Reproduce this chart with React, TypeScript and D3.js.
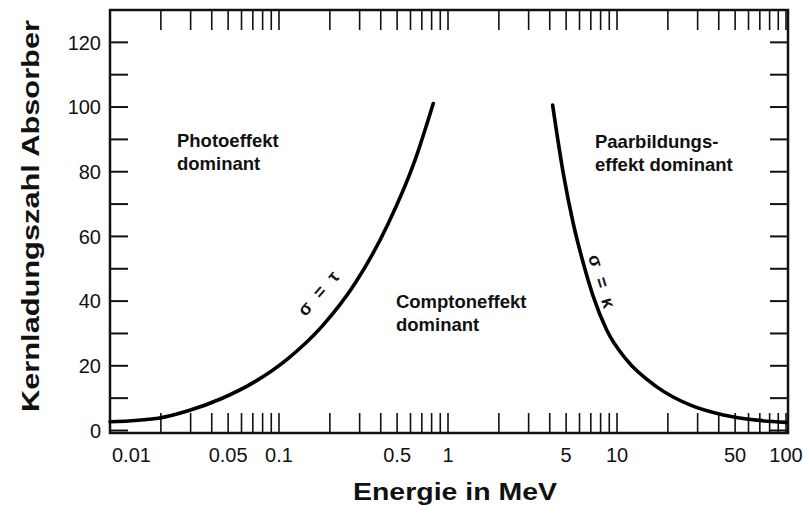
import React from "react";
import * as d3 from "d3";

// Energy (MeV) and atomic number Z along the boundary curves
const photoComptonE = [0.01, 0.0193, 0.029, 0.0458, 0.0721, 0.1135, 0.179, 0.282, 0.443, 0.638, 0.818];
const photoComptonZ = [2.7, 3.8, 6.1, 9.9, 15.1, 22.3, 32.1, 45.5, 64.0, 83.6, 101.1];
const comptonPairE = [4.16, 4.81, 5.51, 6.32, 7.24, 8.69, 11.4, 17.2, 27.0, 42.6, 67.1, 100];
const comptonPairZ = [100.6, 79.5, 64, 51.7, 41.4, 31.1, 21.8, 13.5, 7.9, 4.8, 3.2, 2.5];

const xTickLabels = [0.01, 0.05, 0.1, 0.5, 1, 5, 10, 50, 100];
const yTickLabels = [0, 20, 40, 60, 80, 100, 120];
const yMinorStep = 10;

const xTitle = "Energie in MeV";
const yTitle = "Kernladungszahl Absorber";

const regionLabels = [
  { lines: ["Photoeffekt", "dominant"], e: 0.0249, z: 87.6 },
  { lines: ["Comptoneffekt", "dominant"], e: 0.492, z: 37.9 },
  { lines: ["Paarbildungs-", "effekt dominant"], e: 7.41, z: 87.3 },
];
const curveLabels = [
  { text: "σ = τ", e: 0.1726, z: 42.8, angle: -49 },
  { text: "σ = κ", e: 8.2, z: 45.7, angle: 73 },
];

const W = 805;
const H = 506;
const FONT = "'Liberation Sans', Arial, Helvetica, sans-serif";

export default function App() {
  const left = 110, right = 788, top = 10, bottom = 433;
  const x = d3.scaleLog().domain([0.01, 100]).range([110, 786]);
  const y = d3.scaleLinear().domain([0, 130]).range([430.5, 10]);

  const xTicks = x.ticks();
  const yTicks = d3.range(0, 131, yMinorStep);

  const line = d3
    .line<[number, number]>()
    .x((d) => x(d[0]))
    .y((d) => y(d[1]))
    .curve(d3.curveMonotoneX);

  const pc = photoComptonE.map((e, i) => [e, photoComptonZ[i]] as [number, number]);
  const cp = comptonPairE.map((e, i) => [e, comptonPairZ[i]] as [number, number]);

  const tl = 20;
  const fmt = (v: number) => String(v);

  return (
    <svg
      width={W}
      height={H}
      style={{ position: "absolute", left: 0, top: 0, background: "#fff" }}
      fontFamily={FONT}
    >
      <rect x={0} y={0} width={W} height={H} fill="#fff" />
      {/* ticks */}
      <g stroke="#111" strokeWidth={1.6}>
        {xTicks.map((t, i) => (
          <g key={"xt" + i}>
            <line x1={x(t)} x2={x(t)} y1={bottom} y2={bottom - tl} />
            <line x1={x(t)} x2={x(t)} y1={top} y2={top + tl} />
          </g>
        ))}
        {yTicks.map((t, i) => (
          <g key={"yt" + i}>
            <line x1={left} x2={left + 18} y1={y(t)} y2={y(t)} strokeWidth={2} />
            <line x1={right} x2={right - 18} y1={y(t)} y2={y(t)} strokeWidth={2} />
          </g>
        ))}
      </g>
      {/* frame */}
      <rect
        x={left}
        y={top}
        width={right - left}
        height={bottom - top}
        fill="none"
        stroke="#111"
        strokeWidth={2.5}
      />
      {/* curves */}
      <path d={line(pc) || ""} fill="none" stroke="#000" strokeWidth={3.6} strokeLinecap="round" />
      <path d={line(cp) || ""} fill="none" stroke="#000" strokeWidth={3.6} strokeLinecap="round" />

      {/* x tick labels */}
      {xTickLabels.map((t, i) => (
        <text
          key={"xl" + i}
          x={i === 0 ? x(t) + 2 : x(t)}
          y={462}
          textAnchor={i === 0 ? "start" : "middle"}
          fontSize={20}
          fill="#111"
        >
          {fmt(t)}
        </text>
      ))}
      {/* y tick labels */}
      {yTickLabels.map((t, i) => (
        <text
          key={"yl" + i}
          x={101}
          y={y(t)}
          dy="0.36em"
          textAnchor="end"
          fontSize={20}
          fill="#111"
        >
          {t}
        </text>
      ))}

      {/* region labels */}
      {regionLabels.map((r, i) => (
        <text key={"rl" + i} x={x(r.e)} y={y(r.z)} fontSize={18.5} fontWeight="bold" fill="#111">
          {r.lines.map((l, j) => (
            <tspan key={j} x={x(r.e)} dy={j === 0 ? 0 : 23}>
              {l}
            </tspan>
          ))}
        </text>
      ))}

      {/* curve labels */}
      {curveLabels.map((c, i) => (
        <text
          key={"cl" + i}
          transform={`translate(${x(c.e)},${y(c.z)}) rotate(${c.angle})`}
          textAnchor="middle"
          dy="0.35em"
          fontSize={18}
          fontWeight="bold"
          letterSpacing={3}
          fill="#111"
        >
          {c.text}
        </text>
      ))}

      {/* axis titles */}
      <text
        x={455}
        y={500}
        textAnchor="middle"
        fontSize={24}
        fontWeight="bold"
        fill="#111"
        textLength={204}
        lengthAdjust="spacingAndGlyphs"
      >
        {xTitle}
      </text>
      <text
        transform="translate(39,216) rotate(-90)"
        textAnchor="middle"
        fontSize={24}
        fontWeight="bold"
        fill="#111"
        textLength={392}
        lengthAdjust="spacingAndGlyphs"
      >
        {yTitle}
      </text>
    </svg>
  );
}
